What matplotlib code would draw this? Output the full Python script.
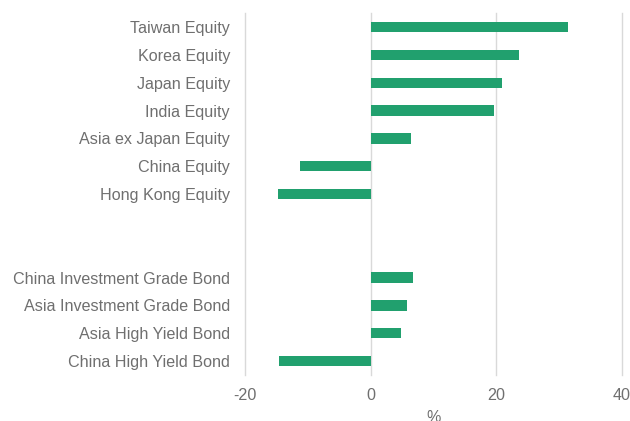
import matplotlib
matplotlib.use("Agg")
import matplotlib.pyplot as plt
import numpy as np

categories = ["Taiwan Equity", "Korea Equity", "Japan Equity", "India Equity",
              "Asia ex Japan Equity", "China Equity", "Hong Kong Equity",
              "", "",
              "China Investment Grade Bond", "Asia Investment Grade Bond",
              "Asia High Yield Bond", "China High Yield Bond"]
values = [31.4, 23.6, 20.9, 19.6, 6.4, -11.2, -14.7,
          np.nan, np.nan,
          6.8, 5.8, 4.8, -14.6]
x_ticks = [-20, 0, 20, 40]

plt.rcParams['font.family'] = ['Liberation Sans', 'DejaVu Sans']
text_color = "#6f6f6f"
bar_color = "#21a06e"

fig = plt.figure(figsize=(6.3, 4.21), dpi=100)
ax = fig.add_axes([0.389, 0.109, 0.598, 0.860])

y = np.arange(len(categories))
vals = np.array(values, dtype=float)
mask = ~np.isnan(vals)
ax.barh(y[mask], vals[mask], height=0.37, color=bar_color, zorder=3)

ax.set_ylim(len(categories) - 0.5, -0.5)
ax.set_xlim(-20, 40)
ax.set_yticks(y)
ax.set_yticklabels(categories)
ax.set_xticks(x_ticks)
ax.set_xticklabels([str(t) for t in x_ticks])

ax.grid(axis='x', color="#d9d9d9", linewidth=1.0, zorder=0)
ax.grid(axis='y', visible=False)
for gl in ax.get_xgridlines():
    gl.set_clip_on(False)
for s in ax.spines.values():
    s.set_visible(False)
ax.tick_params(axis='both', length=0, labelsize=11.6, colors=text_color)
ax.tick_params(axis='y', pad=10.8)
ax.tick_params(axis='x', pad=9.5)
ax.set_xlabel("%", color=text_color, fontsize=11.6, labelpad=5)

fig.savefig("out.png", dpi=100)
